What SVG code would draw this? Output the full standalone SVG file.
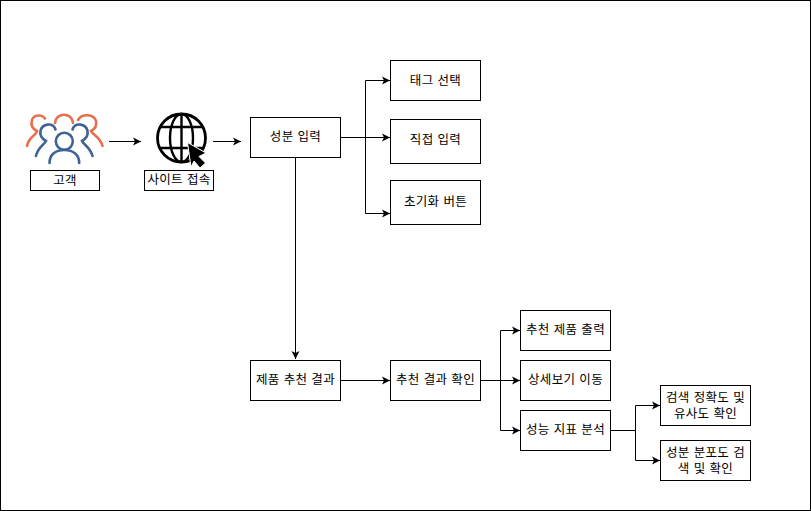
<svg xmlns="http://www.w3.org/2000/svg" width="811" height="511" viewBox="0 0 811 511">
<defs>
<marker id="arrow" markerUnits="userSpaceOnUse" markerWidth="10" markerHeight="10" refX="8" refY="5" orient="auto"><path d="M0 1 L8 5 L0 9 L2 5 Z" fill="#000"/></marker>
</defs>
<style>
.box{fill:#fff;stroke:#000;stroke-width:1}
.t{font-family:"Noto Sans CJK KR","Noto Sans",sans-serif;font-size:12.500px;letter-spacing:.35px;word-spacing:.8px;fill:#000;text-anchor:middle}
.c{fill:none;stroke:#000;stroke-width:1}
.a{marker-end:url(#arrow)}
.or{fill:none;stroke:#e8704f;stroke-width:2.600;stroke-linecap:round}
.bl{fill:none;stroke:#3f6394;stroke-width:2.600;stroke-linecap:round}
</style>
<rect x="0.5" y="0.5" width="810" height="510" fill="#fff" stroke="#000"/>
<g id="connectors">
<path class="c a" d="M109 141.500H141"/>
<path class="c a" d="M213 141.500H241"/>
<path class="c a" d="M340.500 137.500H365.500V80.500H390"/>
<path class="c a" d="M340.500 137.500H390"/>
<path class="c a" d="M340.500 137.500H365.500V213.500H390"/>
<path class="c a" d="M295.500 157.500V359"/>
<path class="c a" d="M340.500 380.500H390"/>
<path class="c a" d="M480.500 380.500H500.500V330.500H520"/>
<path class="c a" d="M480.500 380.500H520"/>
<path class="c a" d="M480.500 380.500H500.500V430.500H520"/>
<path class="c a" d="M610.500 430.500H635.500V405.500H660"/>
<path class="c a" d="M610.500 430.500H635.500V460.500H660"/>
</g>
<g id="customer-icon">
<path class="or" d="M45 118.500C42 114.500 34 114 32 120C30.500 125 33 129 37 131C36 136 29 136 27 146"/>
<path class="or" d="M55 123C56 112 72 112 73 123"/>
<path class="or" d="M78 120C82 113 94 114 96 121C97 126 95 129 91 131C94 136 100 137 102.500 146"/>
<path class="bl" d="M55.500 129.500C53 122 42 123.500 40.500 131C39.500 136 42.500 139 46 141C44 145 38 147 36 156"/>
<path class="bl" d="M72.500 129.500C75 122 86 123.500 87.500 131C88.500 136 85.500 139 82 141C84 145 90 147 92.500 156"/>
<circle class="bl" cx="64.300" cy="141.300" r="8.500"/>
<path class="bl" d="M49.500 163C49.500 155 55 150 64.300 150C73.500 150 79.200 155 79.200 163"/>
</g>
<g id="customer"><rect class="box" x="30.500" y="170.500" width="69" height="20"/><text class="t" x="65" y="185">고객</text></g>
<g id="globe-icon">
<circle cx="181.500" cy="138" r="24" fill="none" stroke="#000" stroke-width="2.800"/>
<ellipse cx="181.500" cy="138" rx="11.500" ry="24" fill="none" stroke="#000" stroke-width="2.400"/>
<path d="M181.500 114V162M160 127H203M160 148H203" fill="none" stroke="#000" stroke-width="2.400"/>
<path d="M187.500 142.500L206 153L199 156.500L205.500 163L200 168L194 161L191 167Z" fill="#000" stroke="#fff" stroke-width="1"/>
</g>
<g id="site"><rect class="box" x="144.500" y="170.500" width="69" height="20"/><text class="t" x="179" y="184">사이트 접속</text></g>
<g id="ingredient"><rect class="box" x="250.500" y="117.500" width="90" height="40"/><text class="t" x="295.500" y="141">성분 입력</text></g>
<g id="tag"><rect class="box" x="390.500" y="60.500" width="90" height="40"/><text class="t" x="435.500" y="85">태그 선택</text></g>
<g id="direct"><rect class="box" x="390.500" y="119.500" width="90" height="44"/><text class="t" x="435.500" y="144">직접 입력</text></g>
<g id="reset"><rect class="box" x="390.500" y="180.500" width="90" height="44"/><text class="t" x="435.500" y="206">초기화 버튼</text></g>
<g id="product-result"><rect class="box" x="250.500" y="360.500" width="90" height="40"/><text class="t" x="295.500" y="384">제품 추천 결과</text></g>
<g id="check-result"><rect class="box" x="390.500" y="360.500" width="90" height="40"/><text class="t" x="435.500" y="384">추천 결과 확인</text></g>
<g id="output"><rect class="box" x="520.500" y="310.500" width="90" height="40"/><text class="t" x="565.500" y="334">추천 제품 출력</text></g>
<g id="detail"><rect class="box" x="520.500" y="360.500" width="90" height="40"/><text class="t" x="565.500" y="384">상세보기 이동</text></g>
<g id="metrics"><rect class="box" x="520.500" y="410.500" width="90" height="40"/><text class="t" x="565.500" y="434">성능 지표 분석</text></g>
<g id="accuracy"><rect class="box" x="660.500" y="385.500" width="90" height="40"/><text class="t" x="705.500" y="402"><tspan x="705.500">검색 정확도 및</tspan><tspan x="705.500" dy="16">유사도 확인</tspan></text></g>
<g id="distribution"><rect class="box" x="660.500" y="440.500" width="90" height="40"/><text class="t" x="705.500" y="457"><tspan x="705.500">성분 분포도 검</tspan><tspan x="705.500" dy="16">색 및 확인</tspan></text></g>
</svg>
